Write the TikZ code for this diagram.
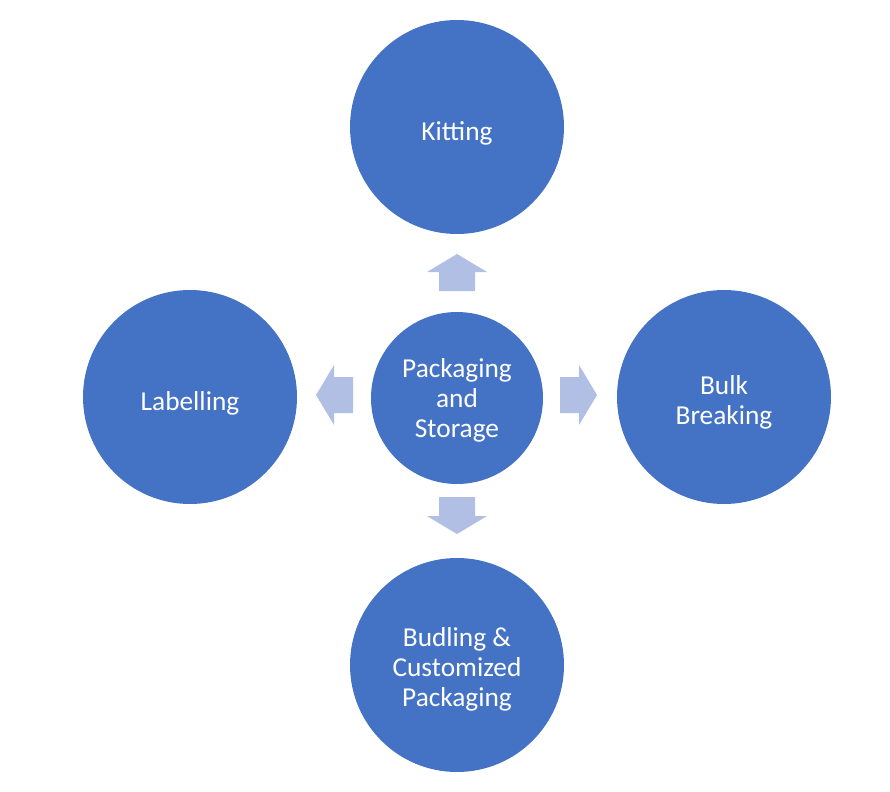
\documentclass[tikz,border=0pt]{standalone}
\usepackage{fontspec}
\setmainfont{Carlito}
\usetikzlibrary{positioning}
\definecolor{hubblue}{HTML}{4472C4}
\definecolor{arrowblue}{HTML}{B0BFE3}
\newcommand{\lift}[1]{\rule{0pt}{#1}}
\tikzset{
  bubble/.style = {circle, fill = hubblue, text = white, align = center,
                   inner sep = 0pt, font = \fontsize{20.5}{22.5}\selectfont},
  outer/.style = {bubble, minimum size = 160.5pt},
  hub/.style = {bubble, minimum size = 129pt},
  blockarrow/.style = {fill = arrowblue}
}
% block arrow pointing right, starting at the origin
\newcommand{\blockarrowpath}{(0,-18) -- (19,-18) -- (19,-30) -- (37,0) -- (19,30) -- (19,18) -- (0,18) -- cycle}

\begin{document}
\begin{tikzpicture} [x = 0.75pt, y = -0.75pt]
\useasboundingbox (0,0) rectangle (890,792);
\node[hub] (c) at (457,398) {\lift{18pt}Packaging\\and\\Storage};
\node[outer] (k) at (457,127) {\lift{24pt}Kitting};
\node[outer] (l) at (190,397) {\lift{24pt}Labelling};
\node[outer] (b) at (724,397) {\lift{22pt}Bulk\\Breaking};
\node[outer] (p) at (457,665) {\lift{21pt}Budling \&\\Customized\\Packaging};
\fill[blockarrow, shift = {(457,291)}, rotate = 90] \blockarrowpath;
\fill[blockarrow, shift = {(560,395)}] \blockarrowpath;
\fill[blockarrow, shift = {(457,497)}, rotate = -90] \blockarrowpath;
\fill[blockarrow, shift = {(353,395)}, rotate = 180] \blockarrowpath;
\end{tikzpicture}
\end{document}
